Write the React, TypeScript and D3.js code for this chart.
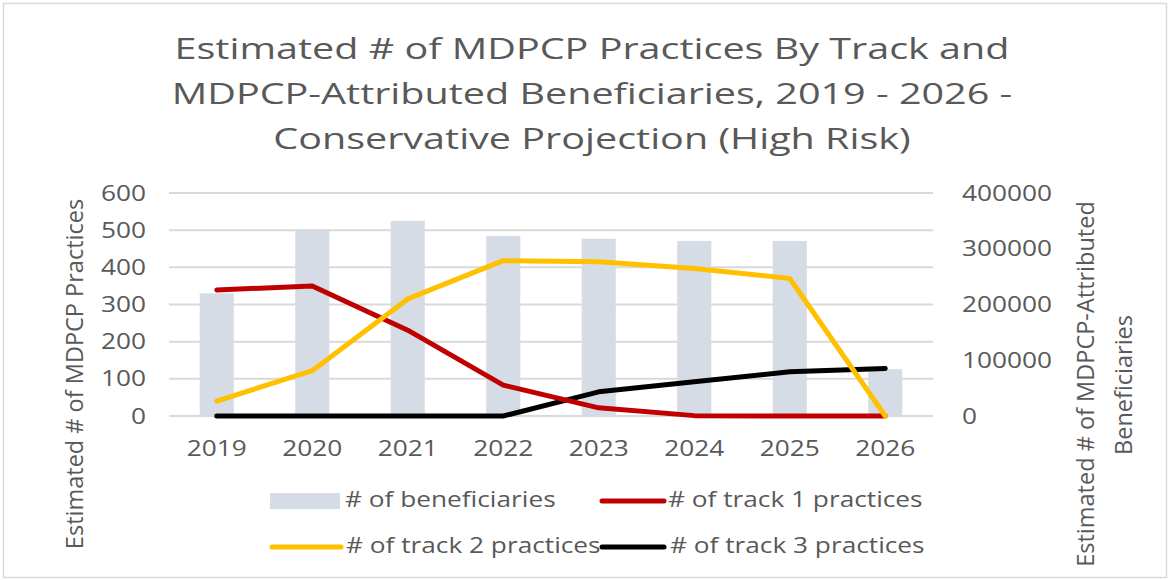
import React, { useEffect, useRef } from 'react'
import * as d3 from 'd3'

// chart data
const years = ['2019', '2020', '2021', '2022', '2023', '2024', '2025', '2026']
const beneficiaries = [220000, 332000, 350000, 323000, 318000, 314000, 314000, 84000]
const track1 = [339, 350, 231, 83, 22, 1, 0, 0]
const track2 = [40, 122, 315, 418, 415, 397, 370, 0]
const track3 = [0, 0, 0, 0, 65, 92, 119, 128]
const leftTicks = [0, 100, 200, 300, 400, 500, 600]
const rightTicks = [0, 100000, 200000, 300000, 400000]
const titleLines = [
  'Estimated # of MDPCP Practices By Track and',
  'MDPCP-Attributed Beneficiaries, 2019 - 2026 -',
  'Conservative Projection (High Risk)',
]

const W = 1170
const H = 580
const SX = 1.25 // the reference is stretched sideways
const FONT = "'Open Sans', 'DejaVu Sans', sans-serif"
const GREY = '#595959'

const App = () => {
  const ref = useRef(null)

  useEffect(() => {
    const svg = d3.select(ref.current)
    svg.selectAll('*').remove()

    const plot = { left: 169, right: 933, top: 193, bottom: 416 }

    const x = d3.scaleBand().domain(years).range([plot.left, plot.right]).padding(0)
    const yL = d3.scaleLinear().domain([0, 600]).range([plot.bottom, plot.top])
    const yR = d3.scaleLinear().domain([0, 400000]).range([plot.bottom, plot.top])
    const cx = (d) => x(d) + x.bandwidth() / 2

    // outer frame
    svg.append('rect')
      .attr('x', 3.5).attr('y', 3.5)
      .attr('width', W - 7).attr('height', H - 6)
      .attr('fill', 'white').attr('stroke', '#d9d9d9').attr('stroke-width', 1.5)

    const text = (str, tx, ty, opts = {}) => {
      const sx = opts.sx || SX
      const g = svg.append('g')
        .attr('transform', `translate(${tx},${ty}) scale(${sx},1)${opts.rotate ? ` rotate(${opts.rotate})` : ''}`)
      g.append('text')
        .attr('font-family', FONT)
        .attr('font-size', opts.size || 21)
        .attr('fill', opts.fill || GREY)
        .attr('text-anchor', opts.anchor || 'middle')
        .text(str)
      return g
    }

    // title
    titleLines.forEach((t, i) => text(t, 592, 59 + i * 45, { size: 29.5, sx: 1.34 }))

    // gridlines
    svg.append('g')
      .selectAll('line')
      .data(leftTicks)
      .enter()
      .append('line')
      .attr('x1', plot.left).attr('x2', plot.right)
      .attr('y1', (d) => yL(d)).attr('y2', (d) => yL(d))
      .attr('stroke', '#d9d9d9').attr('stroke-width', 2)

    // bars on the secondary axis
    const barW = x.step() / 2.8
    svg.append('g')
      .selectAll('rect')
      .data(beneficiaries)
      .enter()
      .append('rect')
      .attr('x', (d, i) => cx(years[i]) - barW / 2)
      .attr('y', (d) => yR(d))
      .attr('width', barW)
      .attr('height', (d) => plot.bottom - yR(d))
      .attr('fill', '#d6dce5')

    // lines
    const series = [
      { values: track3, color: '#000000' },
      { values: track1, color: '#c00000' },
      { values: track2, color: '#ffc000' },
    ]
    const line = d3.line()
      .x((d, i) => cx(years[i]))
      .y((d) => yL(d))
    series.forEach((s) => {
      svg.append('path')
        .datum(s.values)
        .attr('d', line)
        .attr('fill', 'none')
        .attr('stroke', s.color)
        .attr('stroke-width', 5)
        .attr('stroke-linejoin', 'round')
        .attr('stroke-linecap', 'round')
    })

    // axis labels
    leftTicks.forEach((d) => text(String(d), 146, yL(d) + 7.5, { anchor: 'end' }))
    rightTicks.forEach((d) => text(String(d), 962, yR(d) + 7.5, { anchor: 'start' }))
    years.forEach((d) => text(d, cx(d), 456))

    // axis titles
    text('Estimated # of MDPCP Practices', 83, 374, { rotate: -90, size: 23.5, sx: 1 })
    text('Estimated # of MDPCP-Attributed', 1094, 384, { rotate: -90, size: 23.5, sx: 1 })
    text('Beneficiaries', 1132, 385, { rotate: -90, size: 23.5, sx: 1 })

    // legend
    const legendRow1 = 507
    const legendRow2 = 553
    svg.append('rect')
      .attr('x', 270).attr('y', legendRow1 - 14)
      .attr('width', 70).attr('height', 16)
      .attr('fill', '#d6dce5')
    text('# of beneficiaries', 345, legendRow1, { anchor: 'start' })

    const legendLine = (x0, x1, y0, color) => svg.append('line')
      .attr('x1', x0).attr('x2', x1)
      .attr('y1', y0).attr('y2', y0)
      .attr('stroke', color).attr('stroke-width', 5)
      .attr('stroke-linecap', 'round')

    legendLine(602, 664, legendRow1 - 6, '#c00000')
    text('# of track 1 practices', 668, legendRow1, { anchor: 'start' })
    legendLine(272, 341, legendRow2 - 6, '#ffc000')
    text('# of track 2 practices', 346, legendRow2, { anchor: 'start' })
    legendLine(602, 664, legendRow2 - 6, '#000000')
    text('# of track 3 practices', 670, legendRow2, { anchor: 'start' })
  }, [])

  return <svg ref={ref} width={W} height={H} style={{ display: 'block', position: 'absolute', left: 0, top: 0 }} />
}

export default App
